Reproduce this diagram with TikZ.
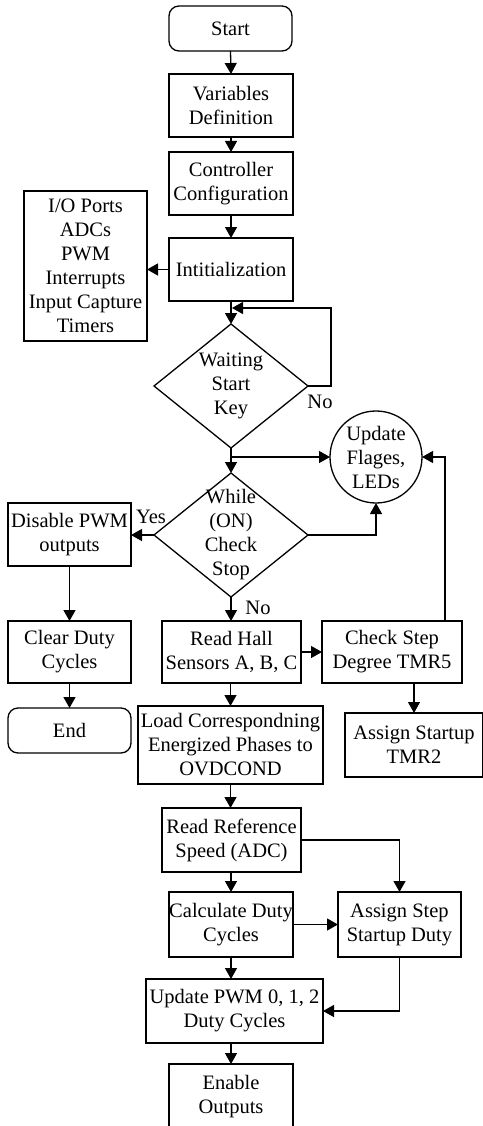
\documentclass[tikz,border=0pt]{standalone}
\usepackage{fontspec}
\setmainfont{Liberation Serif}
\usetikzlibrary{shapes.geometric,arrows.meta}
\begin{document}
\begin{tikzpicture}[x=1pt,y=-1pt,line width=1.3pt,
  every node/.style={font=\fontsize{20.5}{24}\selectfont,align=center,inner sep=0pt,outer sep=0pt},
  box/.style 2 args={draw,rectangle,minimum width=#1,minimum height=#2},
  term/.style 2 args={draw,rectangle,rounded corners=10pt,minimum width=#1,minimum height=#2},
  dia/.style={draw,diamond,minimum width=154pt,minimum height=124pt,aspect=1.24},
  arr/.style={-{Triangle[length=11pt,width=12pt]}}]
\useasboundingbox (0,0) rectangle (482,1126);
% nodes
\node[term={123pt}{45pt}] (start) at (230.5,28.5) {Start};
\node[box={124pt}{63pt}] (var) at (231,105.5) {Variables\\Definition};
\node[box={124pt}{63pt}] (ctrl) at (231,183.5) {Controller\\Configuration};
\node[box={124pt}{63pt}] (init) at (231,269.5) {Intitialization};
\node[box={123pt}{150pt}] (io) at (85.5,266) {I/O Ports\\ADCs\\PWM\\Interrupts\\Input Capture\\Timers};
\node[dia] (wait) at (231,386) {};
\node (waitT) at (wait.center) {Waiting\\Start\\Key};
\node[draw,circle,minimum size=92pt] (upd) at (376,457) {Update\\Flages,\\LEDs};
\node[dia] (while) at (231,535) {};
\node (whileT) at (while.center) {While\\(ON)\\Check\\Stop};
\node[box={123pt}{63pt}] (dis) at (69.5,534.5) {Disable PWM\\outputs};
\node[box={123pt}{62pt}] (clr) at (69.5,652) {Clear Duty\\Cycles};
\node[term={123pt}{45pt}] (endn) at (69.5,730.5) {End};
\node[box={139pt}{62pt}] (hall) at (231.5,652) {Read Hall\\Sensors A, B, C};
\node[box={140pt}{62pt}] (chk) at (392,652) {Check Step\\Degree TMR5};
\node[box={138pt}{64pt}] (asg) at (414,745) {Assign Startup\\TMR2};
\node[box={185pt}{78pt}] (load) at (230.5,745) {Load Correspondning\\Energized Phases to\\OVDCOND};
\node[box={139pt}{64pt}] (ref) at (231.5,840) {Read Reference\\Speed (ADC)};
\node[box={124pt}{65pt}] (calc) at (231,924.5) {Calculate Duty\\Cycles};
\node[box={123pt}{65pt}] (step) at (399.5,924.5) {Assign Step\\Startup Duty};
\node[box={177pt}{64pt}] (pwm) at (234.5,1011) {Update PWM 0, 1, 2\\Duty Cycles};
\node[box={124pt}{66pt}] (enable) at (231,1097) {Enable\\Outputs};
% labels
\node (no1) at (320,402) {No};
\node (yes) at (151,517) {Yes};
\node (no2) at (258,608) {No};
% helper coordinates
\coordinate (loopend) at (232,308);
\coordinate (split) at (231,457);
% connectors
\draw[arr] (start.south) -- (var.north);
\draw[arr] (var.south) -- (ctrl.north);
\draw[arr] (ctrl.south) -- (init.north);
\draw[arr] (init.west) -- (init.west -| io.east);
\draw[arr] (init.south) -- (wait.north);
\draw[arr] (wait.east) -- ++(23,0) |- (loopend);
\draw[arr] (wait.south) -- (while.north);
\draw[arr] (split) -- (upd.west);
\draw[arr] (while.east) -| (upd.south);
\draw[arr] (while.west) -- (while.west -| dis.east);
\draw[arr] (dis.south) -- (clr.north);
\draw[arr] (clr.south) -- (endn.north);
\draw[arr] (while.south) -- (while.south |- hall.north);
\draw[arr] (hall.east) -- (hall.east -| chk.west);
\draw[arr] ([xshift=53pt]chk.north) |- (upd.east);
\draw[arr] (asg.north |- chk.south) -- (asg.north);
\draw[arr] (hall.south -| load.north) -- (load.north);
\draw[arr] (load.south) -- (load.south |- ref.north);
\draw[arr] (ref.east) -| (step.north);
\draw[arr] (ref.south -| calc.north) -- (calc.north);
\draw[arr] (calc.east) -- (calc.east -| step.west);
\draw[arr] (calc.south) -- (calc.south |- pwm.north);
\draw[arr] (step.south) |- (pwm.east);
\draw[arr] (enable.north |- pwm.south) -- (enable.north);
\end{tikzpicture}
\end{document}
